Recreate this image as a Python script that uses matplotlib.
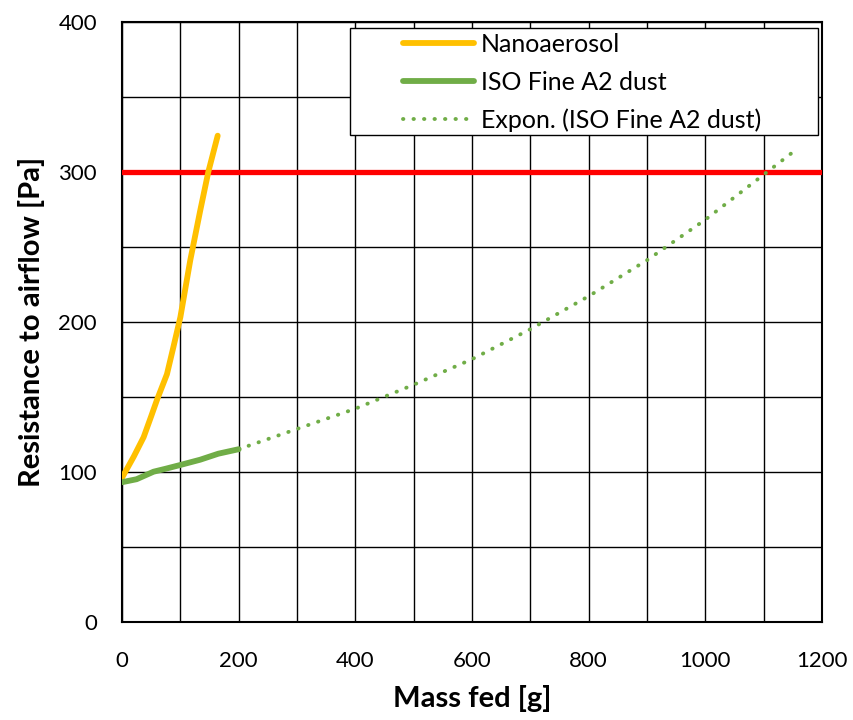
import matplotlib
matplotlib.use("Agg")
import matplotlib.pyplot as plt
from matplotlib.patches import Rectangle

plt.rcParams["font.family"] = ["Lato", "DejaVu Sans"]

# Nanoaerosol loading curve (mass fed [g], resistance [Pa])
nano_mass = [0, 20, 37, 50, 60, 77, 88, 100, 117, 134, 148, 164]
nano_dp = [96, 110, 123, 137, 148, 165, 183, 203, 241, 274, 300, 324]

# ISO Fine A2 dust loading curve
iso_mass = [0, 25, 54, 75, 100, 134, 165, 200]
iso_dp = [93, 95, 100, 102, 104.5, 108, 112, 115]

# exponential trendline of the ISO dust
trend_mass = [200, 300, 400, 500, 600, 700, 800, 900, 1000, 1100, 1150]
trend_dp = [115, 128.5, 142, 158, 175, 195, 217, 241, 268, 298, 313]

limit_dp = 300

ORANGE = "#FFC000"
GREEN = "#70AD47"
RED = "#FF0000"

fig = plt.figure(figsize=(8.54, 7.2), dpi=100)
ax = fig.add_axes([0.1429, 0.1365, 0.8196, 0.8334])

ax.set_xlim(0, 1200)
ax.set_ylim(0, 400)
ax.set_xticks(range(0, 1201, 200))
ax.set_xticks(range(0, 1201, 100), minor=True)
ax.set_yticks(range(0, 401, 100))
ax.set_yticks(range(0, 401, 50), minor=True)
ax.grid(True, which="both", color="black", linewidth=1.0)
ax.set_axisbelow(True)
ax.tick_params(which="both", length=0)
ax.tick_params(axis="x", pad=21, labelsize=16)
ax.tick_params(axis="y", pad=18, labelsize=16)
for sp in ax.spines.values():
    sp.set_linewidth(1.5)
    sp.set_color("black")

ax.axhline(limit_dp, color=RED, linewidth=3.8, zorder=3)
ax.plot(nano_mass, nano_dp, color=ORANGE, linewidth=4.2, solid_capstyle="round",
        label="Nanoaerosol", zorder=4)
ax.plot(iso_mass, iso_dp, color=GREEN, linewidth=4.2, solid_capstyle="round",
        label="ISO Fine A2 dust", zorder=4)
ax.plot(trend_mass, trend_dp, color=GREEN, linewidth=2.8, linestyle=(0, (0.1, 2.6)),
        dash_capstyle="round", label="Expon. (ISO Fine A2 dust)", zorder=4)

ax.set_xlabel("Mass fed [g]", fontsize=21, fontweight="bold", labelpad=10)
ax.set_ylabel("Resistance to airflow [Pa]", fontsize=21, fontweight="bold", labelpad=10)

# legend box (white, black frame) like the Excel original
box = Rectangle((350 / 854, 1 - 135 / 720), 468 / 854, 107 / 720,
                transform=fig.transFigure, facecolor="white", edgecolor="black",
                linewidth=1.0, zorder=5)
fig.add_artist(box)
leg = fig.legend(loc="upper left", bbox_to_anchor=(403 / 854, 1 - 33 / 720),
                 frameon=False, fontsize=18, handlelength=2.85, handletextpad=0.28,
                 labelspacing=0.58, borderpad=0, borderaxespad=0)
leg.set_zorder(6)

fig.savefig("out.png", dpi=100)
